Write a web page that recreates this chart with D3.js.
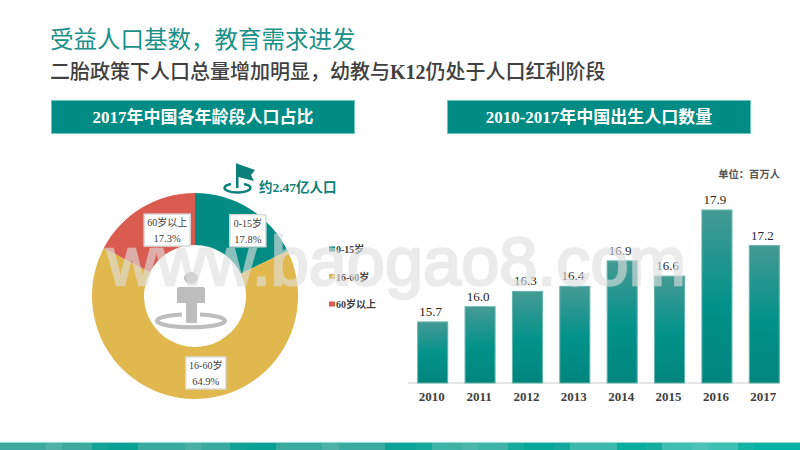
<!DOCTYPE html>
<html>
<head>
<meta charset="utf-8">
<script src="https://d3js.org/d3.v7.min.js"></script>
<style>
  html, body { margin: 0; padding: 0; background: #fff; overflow: hidden; }
  svg { display: block; }
  text { font-family: "Liberation Serif", "Noto Sans CJK SC", serif; }
</style>
</head>
<body>
<div id="chart"></div>
<script>
// donut data
var ageGroups = ['0-15岁', '16-60岁', '60岁以上'];
var ageShares = [17.8, 64.9, 17.3];

// bar data
var years = ['2010', '2011', '2012', '2013', '2014', '2015', '2016', '2017'];
var births = [15.7, 16.0, 16.3, 16.4, 16.9, 16.6, 17.9, 17.2];

var ageColor = d3.scaleOrdinal().domain(ageGroups).range(['#008c84', '#e1b84d', '#da5b50']);

var svg = d3.select('#chart').append('svg').attr('width', 800).attr('height', 450);

var defs = svg.append('defs');
var grad = defs.append('linearGradient').attr('id', 'barFill')
  .attr('x1', 0).attr('y1', 0).attr('x2', 0).attr('y2', 1);
grad.append('stop').attr('offset', '0%').attr('stop-color', '#459a94');
grad.append('stop').attr('offset', '55%').attr('stop-color', '#00928a');
grad.append('stop').attr('offset', '100%').attr('stop-color', '#00857e');

// titles
svg.append('text').attr('x', 50).attr('y', 48)
  .attr('font-size', 23.5).attr('fill', '#1a9088').text('受益人口基数，教育需求进发');
var sub = svg.append('text').attr('x', 50).attr('y', 79)
  .attr('font-size', 20).attr('font-weight', 500).attr('fill', '#404040');
sub.append('tspan').text('二胎政策下人口总量增加明显，幼教与');
sub.append('tspan').attr('font-weight', 700).text('K12');
sub.append('tspan').text('仍处于人口红利阶段');

// header boxes
function headerBox(x, w, label) {
  svg.append('rect').attr('x', x).attr('y', 100.5).attr('width', w).attr('height', 33)
    .attr('fill', '#008c84').attr('stroke', '#6cc5be');
  svg.append('text').attr('x', x + w / 2).attr('y', 123).attr('text-anchor', 'middle')
    .attr('font-size', 17).attr('font-weight', 700).attr('fill', '#fff').text(label);
}
headerBox(51.5, 303, '2017年中国各年龄段人口占比');
headerBox(447.5, 303, '2010-2017年中国出生人口数量');

// donut
var pie = d3.pie().sort(null).value(function (d) { return d; });
var arc = d3.arc().innerRadius(51).outerRadius(103);
var labelArc = d3.arc().innerRadius(77).outerRadius(77);
var donut = svg.append('g').attr('transform', 'translate(195,296)');
var arcs = pie(ageShares);

donut.selectAll('path').data(arcs).enter().append('path')
  .attr('d', arc)
  .attr('fill', function (d, i) { return ageColor(ageGroups[i]); });

var tags = donut.selectAll('g.tag').data(arcs).enter().append('g')
  .attr('class', 'tag')
  .attr('transform', function (d) {
    var c = labelArc.centroid(d);
    return 'translate(' + (c[0] + 12) + ',' + c[1] + ')';
  });
tags.append('rect')
  .attr('x', function (d, i) { return i == 0 ? -18 : (i == 1 ? -20 : -23); })
  .attr('y', -16)
  .attr('width', function (d, i) { return i == 0 ? 36 : (i == 1 ? 40 : 46); })
  .attr('height', 32)
  .attr('fill', '#fff').attr('stroke', '#d9d9d9').attr('stroke-width', 1.5);
tags.append('text').attr('y', -4).attr('text-anchor', 'middle')
  .attr('font-size', 10).attr('fill', '#404040')
  .text(function (d, i) { return ageGroups[i]; });
tags.append('text').attr('y', 12).attr('text-anchor', 'middle')
  .attr('font-size', 10.5).attr('fill', '#404040')
  .text(function (d) { return d.value.toFixed(1) + '%'; });

// person icon in the donut hole
var person = svg.append('g').attr('fill', '#bdbdbd');
person.append('ellipse').attr('cx', 191).attr('cy', 278).attr('rx', 7).attr('ry', 6);
person.append('path').attr('d', 'M179,287 H203 Q205,287 205,289 V303 H197 V323 H186 V303 H177 V289 Q177,287 179,287 Z');
person.append('path').attr('fill', 'none').attr('stroke', '#bdbdbd').attr('stroke-width', 4)
  .attr('d', 'M182,314.5 A34,6.5 0 1,0 200,314.5');

// flag marker
var flag = svg.append('g').attr('fill', '#0b8079');
flag.append('path').attr('d', 'M236,163 L238,164 L255,170 L251,175 L254,181 L238.5,177 V188 H236 Z');
flag.append('path').attr('fill', 'none').attr('stroke', '#0b8079').attr('stroke-width', 2.5)
  .attr('d', 'M231,184 A13,4.5 0 1,0 244,184');
svg.append('text').attr('x', 259).attr('y', 192)
  .attr('font-size', 13.5).attr('font-weight', 700).attr('fill', '#0b8079').text('约2.47亿人口');

// legend
var legend = svg.selectAll('g.legend').data(ageGroups).enter().append('g')
  .attr('class', 'legend')
  .attr('transform', function (d, i) { return 'translate(329,' + (249 + i * 27.5) + ')'; });
legend.append('rect').attr('y', -2.5).attr('width', 6).attr('height', 5)
  .attr('fill', function (d) { return ageColor(d); });
legend.append('text').attr('x', 7).attr('y', 4)
  .attr('font-size', 10).attr('font-weight', 700).attr('fill', '#404040')
  .text(function (d) { return d; });

// bars
var x = d3.scaleBand().domain(years).range([409, 788]).paddingInner(0.366).paddingOuter(0.183);
var y = d3.scaleLinear().domain([14.5, 17.9]).range([383, 210]);

svg.append('line')
  .attr('x1', x(years[0]) - 10).attr('x2', x(years[years.length - 1]) + x.bandwidth())
  .attr('y1', y(14.5)).attr('y2', y(14.5))
  .attr('stroke', '#e6e6e6').attr('stroke-width', 2);

svg.selectAll('rect.bar').data(births).enter().append('rect')
  .attr('class', 'bar')
  .attr('x', function (d, i) { return x(years[i]); })
  .attr('y', function (d) { return y(d); })
  .attr('width', x.bandwidth())
  .attr('height', function (d) { return y(14.5) - y(d); })
  .attr('fill', 'url(#barFill)')
  .attr('stroke', '#62b5ae').attr('stroke-width', 1);

svg.selectAll('text.val').data(births).enter().append('text')
  .attr('class', 'val')
  .attr('x', function (d, i) { return x(years[i]) + x.bandwidth() / 2 - 2; })
  .attr('y', function (d) { return y(d) - 6; })
  .attr('text-anchor', 'middle')
  .attr('font-size', 13).attr('fill', '#262626')
  .text(function (d) { return d.toFixed(1); });

var axis = svg.append('g').attr('transform', 'translate(-1,' + y(14.5) + ')')
  .call(d3.axisBottom(x).tickSize(0).tickPadding(9));
axis.select('.domain').remove();
axis.selectAll('text')
  .style('font-family', '"Liberation Serif", serif')
  .attr('font-size', 13).attr('font-weight', 700).attr('fill', '#404040');

svg.append('text').attr('x', 780).attr('y', 178).attr('text-anchor', 'end')
  .attr('font-size', 10.3).attr('font-weight', 700).attr('fill', '#555').text('单位：百万人');

// bottom band, blocky teal strip
var bandWidths = [46, 16, 30, 16, 30, 47, 16, 29, 17, 29, 46, 17, 46, 15, 16, 16, 30, 16, 30, 16, 30, 16, 47, 29, 16, 30, 16, 30, 16, 46];
var bandColors = ['#3ea99f', '#4eb0a7', '#3ea99f', '#12a396', '#07a092', '#3aa99f', '#4ab0a6', '#3aa99f', '#11a396', '#07a092',
  '#3aaba0', '#4cb2a8', '#3aaba0', '#0aa395', '#09a597', '#12a89a', '#3eb2a7', '#4cb6ac', '#40b3a8', '#14aa9c',
  '#08a899', '#12a99c', '#3cb8ad', '#09ad9e', '#12af9f', '#3ebfb2', '#4cc3b7', '#3ec0b4', '#12b3a5', '#06b2a3'];
var bandX = 0;
bandWidths.forEach(function (w, i) {
  svg.append('rect').attr('x', bandX).attr('y', 442.5).attr('width', w + 0.5).attr('height', 8).attr('fill', bandColors[i]);
  bandX += w;
});
svg.append('rect').attr('x', 0).attr('y', 442).attr('width', 800).attr('height', 1).attr('fill', '#93dcd4');

// watermark over everything
svg.append('text').attr('x', 107).attr('y', 285)
  .style('font-family', '"Liberation Sans", sans-serif')
  .attr('font-size', 68.5).attr('fill', '#e0e0e0').attr('stroke', '#e0e0e0').attr('stroke-width', 2.4)
  .attr('opacity', 0.62)
  .text('www.baogao8.com');
</script>
</body>
</html>
